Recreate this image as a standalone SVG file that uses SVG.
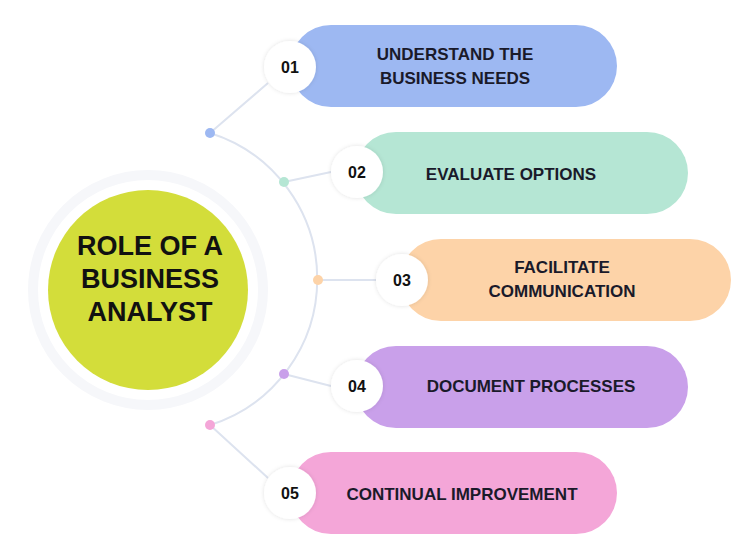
<svg xmlns="http://www.w3.org/2000/svg" width="743" height="554" viewBox="0 0 743 554">
<style>
.lbl{font-family:"Liberation Sans",Arial,sans-serif;font-weight:bold;font-size:17px;fill:#1a1a2a;text-anchor:middle}
.num{font-family:"Liberation Sans",Arial,sans-serif;font-weight:bold;font-size:16px;fill:#111;text-anchor:middle}
.nc{fill:#fff;filter:url(#sh)}
.ln{fill:none;stroke:#dde3ef;stroke-width:2}
</style>
<defs><filter id="sh" x="-30%" y="-30%" width="160%" height="160%"><feDropShadow dx="0" dy="0" stdDeviation="2" flood-color="#000" flood-opacity="0.12"/></filter></defs>
<rect width="743" height="554" fill="#fff"/>
<g id="connectors">
<circle cx="148" cy="290" r="115" fill="none" stroke="#f6f7fa" stroke-width="10"/>
<path class="ln" d="M210 133 A153 153 0 0 1 210 425"/>
<path class="ln" d="M210 133 L268 83 M284 182 L331 172 M318 280 L376 280 M284 374 L331 386 M210 425 L268 478"/>
<circle cx="210" cy="133" r="5" fill="#9db8f2"/>
<circle cx="284" cy="182" r="5" fill="#b5e6d4"/>
<circle cx="318" cy="280" r="5" fill="#fdd3a8"/>
<circle cx="284" cy="374" r="5" fill="#c9a0ea"/>
<circle cx="210" cy="425" r="5" fill="#f4a6d8"/>
</g>
<g id="center"><circle cx="148" cy="290" r="100" fill="#d3dd3a"/>
<text class="lbl" style="font-size:27px;fill:#111" x="150" y="255">ROLE OF A</text>
<text class="lbl" style="font-size:27px;fill:#111" x="150" y="288">BUSINESS</text>
<text class="lbl" style="font-size:27px;fill:#111" x="150" y="321">ANALYST</text></g>
<g id="n1"><rect x="290" y="25" width="327" height="82" rx="41" fill="#9db8f2"/><circle class="nc" cx="290" cy="67" r="26"/><text class="num" x="290" y="73">01</text><text class="lbl" x="455" y="60">UNDERSTAND THE</text><text class="lbl" x="455" y="84">BUSINESS NEEDS</text></g>
<g id="n2"><rect x="355" y="132" width="333" height="82" rx="41" fill="#b5e6d4"/><circle class="nc" cx="357" cy="172" r="26"/><text class="num" x="357" y="178">02</text><text class="lbl" x="511" y="180">EVALUATE OPTIONS</text></g>
<g id="n3"><rect x="400" y="239" width="331" height="82" rx="41" fill="#fdd3a8"/><circle class="nc" cx="402" cy="280" r="26"/><text class="num" x="402" y="286">03</text><text class="lbl" x="562" y="273">FACILITATE</text><text class="lbl" x="562" y="297">COMMUNICATION</text></g>
<g id="n4"><rect x="355" y="346" width="333" height="82" rx="41" fill="#c9a0ea"/><circle class="nc" cx="357" cy="386" r="26"/><text class="num" x="357" y="392">04</text><text class="lbl" x="531" y="392">DOCUMENT PROCESSES</text></g>
<g id="n5"><rect x="290" y="452" width="327" height="82" rx="41" fill="#f4a6d8"/><circle class="nc" cx="290" cy="493" r="26"/><text class="num" x="290" y="499">05</text><text class="lbl" x="462" y="500">CONTINUAL IMPROVEMENT</text></g>
</svg>
